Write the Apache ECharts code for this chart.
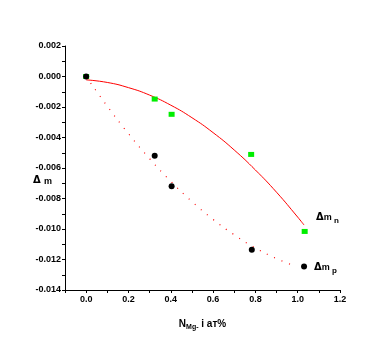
<!DOCTYPE html>
<html>
<head>
<meta charset="utf-8">
<script src="https://cdn.jsdelivr.net/npm/echarts@6/dist/echarts.min.js"></script>
<style>html,body{margin:0;padding:0;background:#fff}#c{width:390px;height:346px}</style>
</head>
<body>
<div id="c"></div>
<script>
// measured points
const nX = [0, 0.324, 0.404, 0.78, 1.033];
const nY = [0, -0.00148, -0.00248, -0.00511, -0.01016];
const pX = [0, 0.324, 0.404, 0.783, 1.03];
const pY = [0, -0.0052, -0.0072, -0.01136, -0.01246];
// fitted curve for Δm_n (solid red)
const fitNX = [0, 0.1, 0.2, 0.3, 0.4, 0.5, 0.6, 0.7, 0.8, 0.9, 1.0, 1.03];
const fitNY = [-0.00022, -0.00039, -0.00073, -0.00122, -0.00188, -0.00270, -0.00368, -0.00482, -0.00613, -0.00759, -0.00922, -0.00974];
// fitted curve for Δm_p (dotted red)
const fitPX = [0, 0.1, 0.2, 0.3, 0.4, 0.5, 0.6, 0.7, 0.8, 0.9, 0.98];
const fitPY = [0, -0.00195, -0.00375, -0.00539, -0.00687, -0.00820, -0.00937, -0.01038, -0.01124, -0.01194, -0.01239];

const zip = (a, b) => a.map((v, i) => [v, b[i]]);
const F = 'Liberation Sans Narrow, Liberation Sans, Arial, sans-serif';

const chart = echarts.init(document.getElementById('c'), null, {renderer: 'canvas'});
chart.setOption({
  animation: false,
  backgroundColor: '#fff',
  grid: {left: 65, right: 50, top: 46, bottom: 56},
  xAxis: {
    type: 'value', min: -0.1, max: 1.2, interval: 0.1,
    splitLine: {show: false},
    axisLine: {onZero: false, lineStyle: {color: '#000', width: 1}},
    axisTick: {show: true, length: 3, inside: false, lineStyle: {color: '#000'}},
    axisLabel: {
      color: '#000', fontFamily: F, fontWeight: 'bold', fontSize: 9, margin: 5,
      showMinLabel: true, showMaxLabel: true,
      formatter: v => { const k = Math.round(v * 10); return (k >= 0 && k % 2 === 0) ? (k / 10).toFixed(1) : ''; }
    },
    name: '{a|N}{s|Mg-}{a| i ат%}', nameLocation: 'middle', nameGap: 28,
    nameTextStyle: {rich: {a: {fontFamily: F, fontWeight: 'bold', fontSize: 10, color: '#000'}, s: {fontFamily: F, fontWeight: 'bold', fontSize: 7, color: '#000', verticalAlign: 'bottom', padding: [6, 0, 0, 0]}}}
  },
  yAxis: {
    type: 'value', min: -0.014, max: 0.002, interval: 0.001,
    splitLine: {show: false},
    axisLine: {onZero: false, lineStyle: {color: '#000', width: 1}},
    axisTick: {show: true, length: 3, inside: false, lineStyle: {color: '#000'}},
    axisLabel: {
      color: '#000', fontFamily: F, fontWeight: 'bold', fontSize: 9, margin: 4,
      showMinLabel: true, showMaxLabel: true,
      formatter: v => { const k = Math.round(v * 1000); if (k % 2 !== 0) return ''; return k === 0 ? '0.000' : (k / 1000).toFixed(3); }
    }
  },
  graphic: [
    {type: 'text', left: 33, top: 174, style: {text: '{d|Δ} {m|m}', rich: {d: {fontFamily: 'DejaVu Sans', fontWeight: 'bold', fontSize: 10, fill: '#000'}, m: {fontFamily: F, fontWeight: 'bold', fontSize: 9, fill: '#000', padding: [3, 0, 0, 0]}}}},
    {type: 'text', left: 316, top: 212, style: {text: '{d|Δ}{m|m}{s| n}', rich: {d: {fontFamily: 'DejaVu Sans', fontWeight: 'bold', fontSize: 10, fill: '#000'}, m: {fontFamily: F, fontWeight: 'bold', fontSize: 9, fill: '#000', padding: [2, 0, 0, 0]}, s: {fontFamily: F, fontWeight: 'bold', fontSize: 8, fill: '#000', padding: [8, 0, 0, 0]}}}},
    {type: 'text', left: 314, top: 262, style: {text: '{d|Δ}{m|m}{s| p}', rich: {d: {fontFamily: 'DejaVu Sans', fontWeight: 'bold', fontSize: 10, fill: '#000'}, m: {fontFamily: F, fontWeight: 'bold', fontSize: 9, fill: '#000', padding: [2, 0, 0, 0]}, s: {fontFamily: F, fontWeight: 'bold', fontSize: 8, fill: '#000', padding: [8, 0, 0, 0]}}}}
  ],
  series: [
    {type: 'line', data: zip(fitNX, fitNY), smooth: true, showSymbol: false, symbol: 'none', lineStyle: {color: '#ff0000', width: 1}, z: 2},
    {type: 'line', data: zip(fitPX, fitPY), smooth: true, showSymbol: false, symbol: 'none', lineStyle: {color: '#ff0000', width: 1.2, type: [1, 7]}, z: 2},
    {type: 'scatter', data: zip(nX, nY), symbol: 'rect', symbolSize: [6, 5], itemStyle: {color: '#00ee00', opacity: 1}, z: 3},
    {type: 'scatter', data: zip(pX, pY), symbol: 'circle', symbolSize: 6, itemStyle: {color: '#000', opacity: 1}, z: 4}
  ]
});
</script>
</body>
</html>
